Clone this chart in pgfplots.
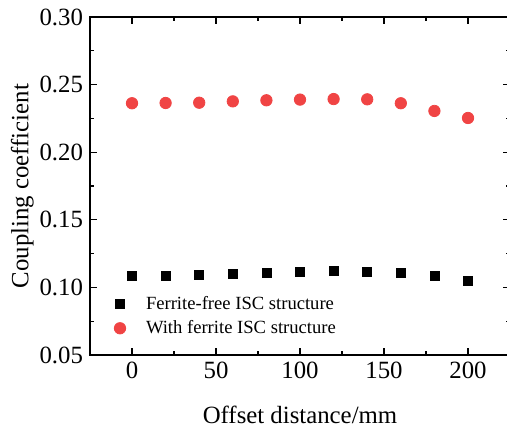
\documentclass[border=0pt]{standalone}
\usepackage{pgfplots}
\pgfplotsset{compat=1.18}
\usepackage{fontspec}
\setmainfont{Liberation Serif}
\definecolor{myred}{RGB}{240,68,68}
\pgfplotsset{mylegimg/.style={legend image code/.code={\path[draw=none,fill=none] (0pt,0pt) rectangle (16.5pt,0.1pt); \draw[##1] plot coordinates {(5.5pt,0pt)};}}}
\begin{document}
\begin{tikzpicture}
\begin{axis}[
  name=ax,
  scale only axis,
  width=210pt, height=169pt,
  xmin=-25, xmax=225,
  ymin=0.05, ymax=0.30,
  xtick={0,50,100,150,200},
  ytick={0.05,0.10,0.15,0.20,0.25,0.30},
  minor x tick num=1,
  minor y tick num=1,
  tick align=inside,
  major tick length=3.5pt,
  minor tick length=2pt,
  axis line style={line width=0.7pt},
  every tick/.style={line width=0.6pt, black},
  yticklabel style={/pgf/number format/.cd, fixed, fixed zerofill, precision=2},
  /pgf/number format/assume math mode=true,
  tick label style={font=\fontsize{12.4}{14}\selectfont},
  label style={font=\fontsize{12.4}{14}\selectfont},
  xlabel={Offset distance/mm},
  ylabel={Coupling coefficient},
  xlabel style={yshift=-7pt},
  ylabel style={yshift=-4pt},
  legend style={draw=none, fill=none, at={(0.03,0.199)}, anchor=north west,
    font=\fontsize{9.3}{11}\selectfont, row sep=0pt},
  legend cell align=left,
]
\addplot[only marks, mylegimg, mark=square*, mark size=2.25pt, color=black]
coordinates {
(0,0.1084) (20,0.1087) (40,0.1089) (60,0.1097) (80,0.1104) (100,0.1112)
(120,0.1119) (140,0.1114) (160,0.1107) (180,0.1084) (200,0.1047)
};
\addlegendentry{Ferrite-free ISC structure}
\addplot[only marks, mylegimg, mark=*, mark size=2.85pt, color=myred, mark options={draw=myred, fill=myred}]
coordinates {
(0,0.2362) (20,0.2364) (40,0.2366) (60,0.2376) (80,0.2384) (100,0.2389)
(120,0.2393) (140,0.2391) (160,0.2362) (180,0.2305) (200,0.2253)
};
\addlegendentry{With ferrite ISC structure}
\end{axis}
\pgfresetboundingbox
\path[use as bounding box] ([xshift=-45pt,yshift=-38.5pt]ax.south west) rectangle ([xshift=208.5pt,yshift=8.5pt]ax.north west);
\end{tikzpicture}
\end{document}
